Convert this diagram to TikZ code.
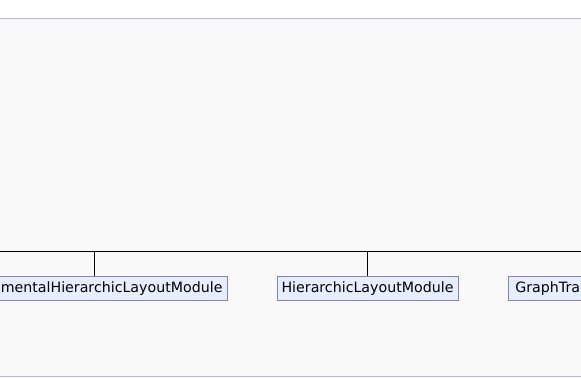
\documentclass[tikz,border=0pt]{standalone}
\usepackage{fontspec}
\setmainfont{DejaVu Sans}
\definecolor{bgc}{HTML}{F9F9F9}
\definecolor{edgeblue}{HTML}{B4B4F0}
\definecolor{boxfill}{HTML}{E6EEFF}
\definecolor{boxdraw}{HTML}{8282C8}
\begin{document}
\begin{tikzpicture}[x=1pt,y=-1pt,
  modbox/.style={draw=boxdraw, fill=boxfill, line width=0.8pt, minimum height=24pt, inner xsep=4pt, inner ysep=0pt, font=\fontsize{14.2}{16}\selectfont, anchor=north},
  tree/.style={draw=black, line width=0.8pt}]
\useasboundingbox (0,0) rectangle (581,379);
\clip (0,0) rectangle (581,379);
\fill[white] (0,0) rectangle (581,379);
\fill[bgc] (0,19) rectangle (581,376);
\draw[edgeblue, line width=1pt] (0,19) -- (581,19);
\draw[edgeblue, line width=1pt] (0,376.5) -- (581,376.5);
\node[modbox, minimum width=266pt] (inc) at (94,276) {IncrementalHierarchicLayoutModule};
\node[modbox, minimum width=181pt] (hier) at (367.5,276) {HierarchicLayoutModule};
\node[modbox, anchor=north west, inner xsep=7pt] (gt) at (508,276) {GraphTransformerLayoutModule};
\coordinate (busL) at (0,251);
\coordinate (busR) at (581,251);
\draw[tree] (busL) -- (busR);
\draw[tree] (inc.north) -- (inc.north |- busL);
\draw[tree] (hier.north) -- (hier.north |- busL);
\end{tikzpicture}
\end{document}
